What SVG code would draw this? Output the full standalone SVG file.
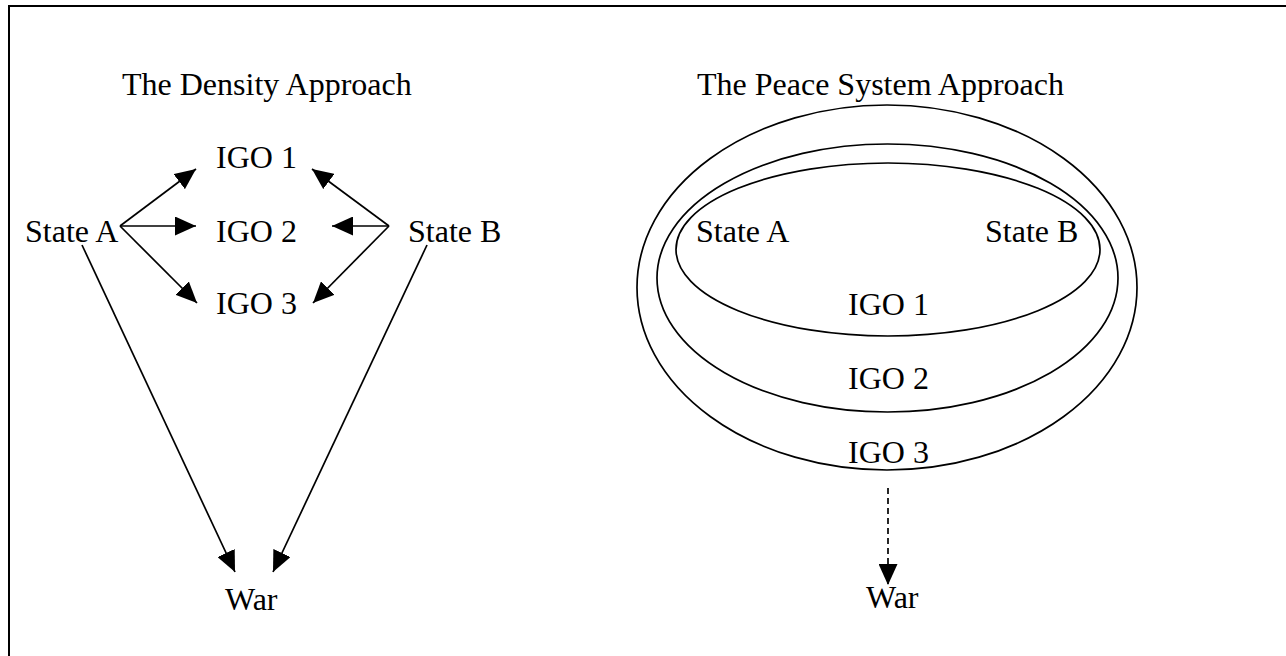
<svg xmlns="http://www.w3.org/2000/svg" width="1286" height="656" viewBox="0 0 1286 656">
<style>
  text { font-family: "Liberation Serif", "Times New Roman", serif; font-size: 32px; fill: #000; }
  .ln { stroke: #000; stroke-width: 1.7; fill: none; }
  .dash { stroke-dasharray: 6 4; }
  .ell { stroke: #000; stroke-width: 1.7; fill: none; }
</style>
<defs>
  <marker id="ah" viewBox="0 0 21 19" markerWidth="21" markerHeight="19" refX="21" refY="9.5" orient="auto" markerUnits="userSpaceOnUse">
    <path d="M0,0 L21,9.5 L0,19 z" fill="#000"/>
  </marker>
</defs>
<rect width="1286" height="656" fill="#fff"/>
<path d="M9,660 V6 H1292" stroke="#000" stroke-width="2" fill="none"/>

<g id="density">
  <text id="title-density" x="122" y="95">The Density Approach</text>
  <g id="igo1-d"><text x="216" y="168">IGO 1</text></g>
  <g id="igo2-d"><text x="216" y="242">IGO 2</text></g>
  <g id="igo3-d"><text x="216" y="314">IGO 3</text></g>
  <g id="stateA-d"><text x="25" y="242">State A</text></g>
  <g id="stateB-d"><text x="408" y="242">State B</text></g>
  <g id="war-d"><text x="225" y="610">War</text></g>
</g>

<g id="peace">
  <text id="title-peace" x="697" y="95">The Peace System Approach</text>
  <g id="igo3-p"><ellipse class="ell" cx="887" cy="287.5" rx="250" ry="182.5"/><text x="848" y="463">IGO 3</text></g>
  <g id="igo2-p"><ellipse class="ell" cx="887.5" cy="278" rx="230.5" ry="134"/><text x="848" y="389">IGO 2</text></g>
  <g id="igo1-p"><ellipse class="ell" cx="888" cy="249.5" rx="212" ry="86.5"/><text x="848" y="315">IGO 1</text></g>
  <g id="stateA-p"><text x="696" y="242">State A</text></g>
  <g id="stateB-p"><text x="985" y="242">State B</text></g>
  <g id="war-p"><text x="866" y="608">War</text></g>
</g>

<g id="connectors">
  <line class="ln" x1="120" y1="226" x2="196" y2="169" marker-end="url(#ah)"/>
  <line class="ln" x1="120" y1="226" x2="196" y2="226" marker-end="url(#ah)"/>
  <line class="ln" x1="120" y1="226" x2="197" y2="303" marker-end="url(#ah)"/>
  <line class="ln" x1="389" y1="226" x2="312" y2="169" marker-end="url(#ah)"/>
  <line class="ln" x1="389" y1="226" x2="332" y2="226" marker-end="url(#ah)"/>
  <line class="ln" x1="389" y1="226" x2="313" y2="303" marker-end="url(#ah)"/>
  <line class="ln" x1="82" y1="245" x2="235" y2="572" marker-end="url(#ah)"/>
  <line class="ln" x1="427" y1="245" x2="273" y2="572" marker-end="url(#ah)"/>
  <line class="ln dash" x1="888" y1="488" x2="888" y2="585" marker-end="url(#ah)"/>
</g>
</svg>
